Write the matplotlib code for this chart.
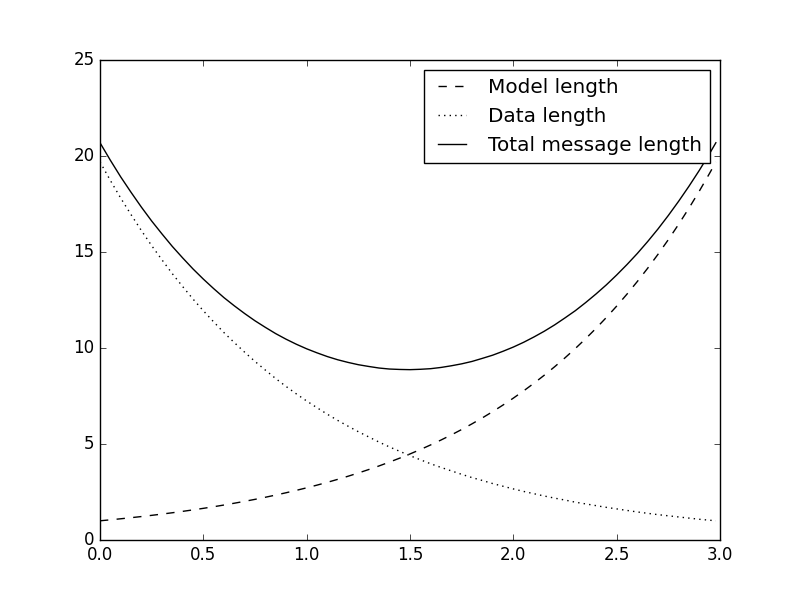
import matplotlib
matplotlib.use("Agg")
import matplotlib.pyplot as plt

plt.style.use('classic')

x = [0.00, 0.05, 0.10, 0.15, 0.20, 0.25, 0.30, 0.35, 0.40, 0.45,
     0.50, 0.55, 0.60, 0.65, 0.70, 0.75, 0.80, 0.85, 0.90, 0.95,
     1.00, 1.05, 1.10, 1.15, 1.20, 1.25, 1.30, 1.35, 1.40, 1.45,
     1.50, 1.55, 1.60, 1.65, 1.70, 1.75, 1.80, 1.85, 1.90, 1.95,
     2.00, 2.05, 2.10, 2.15, 2.20, 2.25, 2.30, 2.35, 2.40, 2.45,
     2.50, 2.55, 2.60, 2.65, 2.70, 2.75, 2.80, 2.85, 2.90, 2.95, 2.98]
model_length = [1.000, 1.051, 1.105, 1.162, 1.221, 1.284, 1.350, 1.419, 1.492, 1.568,
                1.649, 1.733, 1.822, 1.916, 2.014, 2.117, 2.226, 2.340, 2.460, 2.586,
                2.718, 2.858, 3.004, 3.158, 3.320, 3.490, 3.669, 3.857, 4.055, 4.263,
                4.482, 4.711, 4.953, 5.207, 5.474, 5.755, 6.050, 6.360, 6.686, 7.029,
                7.389, 7.768, 8.166, 8.585, 9.025, 9.488, 9.974, 10.486, 11.023, 11.588,
                12.182, 12.807, 13.464, 14.154, 14.880, 15.643, 16.445, 17.288, 18.174,
                19.106, 19.69]
data_length = [19.69, 18.73, 17.81, 16.95, 16.12, 15.33, 14.59, 13.87, 13.20, 12.55,
               11.94, 11.36, 10.80, 10.28, 9.78, 9.30, 8.85, 8.41, 8.00, 7.61,
               7.24, 6.89, 6.55, 6.23, 5.93, 5.64, 5.37, 5.10, 4.85, 4.62,
               4.39, 4.18, 3.97, 3.78, 3.60, 3.42, 3.25, 3.10, 2.94, 2.80,
               2.66, 2.53, 2.41, 2.29, 2.18, 2.08, 1.97, 1.88, 1.79, 1.70,
               1.62, 1.54, 1.46, 1.39, 1.32, 1.26, 1.20, 1.14, 1.08, 1.03, 1.00]
total_length = [m + d for m, d in zip(model_length, data_length)]
labels = ['Model length', 'Data length', 'Total message length']

fig = plt.figure(figsize=(8, 6), dpi=100, facecolor='white')
ax = fig.add_subplot(111)
ax.plot(x, model_length, 'k--', label=labels[0])
ax.plot(x, data_length, 'k:', label=labels[1])
ax.plot(x, total_length, 'k', label=labels[2])
ax.set_xlim(0, 3)
ax.set_ylim(0, 25)
leg = ax.legend(loc='upper right', fontsize='large', shadow=False, fancybox=False)
fig.savefig('out.png', dpi=100, facecolor='white')
